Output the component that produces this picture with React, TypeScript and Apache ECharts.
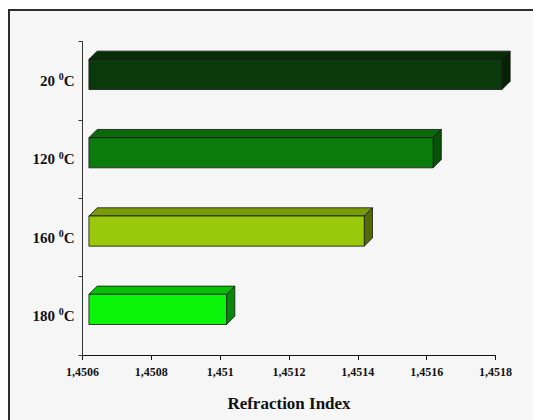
import React, { useEffect, useRef } from "react";
import * as echarts from "echarts";

// Sample temperatures (°C) and the refraction index measured at each
const temperatures = ["20", "120", "160", "180"];
const refractionIndex = [1.4518, 1.4516, 1.4514, 1.451];

// Value axis range and tick step
const axisMin = 1.4506;
const axisMax = 1.4518;
const axisStep = 0.0002;

// Face colours of each 3D bar: front, top, right side
const frontColors = ["#0a3a0b", "#0b7b0c", "#9ac80a", "#0af50a"];
const topColors = ["#082e08", "#0a690a", "#7b9a08", "#08bf08"];
const sideColors = ["#052205", "#075207", "#516b05", "#088a08"];

const serif = "'Liberation Serif', 'Times New Roman', serif";

const formatIndex = (v: number) =>
  String(Number(v.toFixed(4))).replace(".", ",");

function renderBar3D(params: any, api: any) {
  const value = api.value(0);
  const cat = api.value(1);
  const idx = params.dataIndex;
  const base = api.coord([axisMin, cat]);
  const end = api.coord([value, cat]);
  const band = api.size([0, 1])[1];

  const h = band * 0.385; // front face height
  const d = band * 0.105; // depth offset
  const off = band * 0.082; // bar sits inside the depth

  const x0 = base[0] + off;
  const x1 = end[0] + off;
  const cy = base[1] - off;
  const y0 = cy - h / 2;
  const y1 = cy + h / 2;
  const stroke = "#151515";

  return {
    type: "group",
    children: [
      {
        type: "polygon",
        shape: {
          points: [
            [x0, y0],
            [x0 + d, y0 - d],
            [x1 + d, y0 - d],
            [x1, y0],
          ],
        },
        style: { fill: topColors[idx], stroke, lineWidth: 0.8 },
      },
      {
        type: "polygon",
        shape: {
          points: [
            [x1, y0],
            [x1 + d, y0 - d],
            [x1 + d, y1 - d],
            [x1, y1],
          ],
        },
        style: { fill: sideColors[idx], stroke, lineWidth: 0.8 },
      },
      {
        type: "rect",
        shape: { x: x0, y: y0, width: x1 - x0, height: h },
        style: { fill: frontColors[idx], stroke, lineWidth: 0.8 },
      },
    ],
  };
}

export default function App() {
  const ref = useRef<HTMLDivElement>(null);

  useEffect(() => {
    if (!ref.current) return;
    const chart = echarts.init(ref.current, null, { renderer: "svg" });

    chart.setOption({
      animation: false,
      backgroundColor: "#ffffff",
      graphic: [
        {
          type: "rect",
          z: -10,
          silent: true,
          shape: { x: 9, y: 10, width: 600, height: 500 },
          style: { fill: "#f6f6f6", stroke: "#2e2e2e", lineWidth: 2 },
        },
      ],
      grid: { left: 82.5, right: 37.5, top: 41.7, bottom: 65 },
      xAxis: {
        type: "value",
        min: axisMin,
        max: axisMax,
        interval: axisStep,
        name: "Refraction Index",
        nameLocation: "middle",
        nameGap: 40,
        nameTextStyle: {
          fontFamily: serif,
          fontWeight: "bold",
          fontSize: 17,
          color: "#111",
        },
        axisLine: { show: true, lineStyle: { color: "#111", width: 1 } },
        axisTick: { show: true, length: 5, lineStyle: { color: "#111" } },
        splitLine: { show: false },
        axisLabel: {
          formatter: formatIndex,
          fontFamily: serif,
          fontWeight: "bold",
          fontSize: 12,
          color: "#111",
          margin: 11,
        },
      },
      yAxis: {
        type: "category",
        data: temperatures,
        inverse: true,
        axisLine: { show: true, lineStyle: { color: "#333", width: 1 } },
        axisTick: { show: true, length: 4, lineStyle: { color: "#333" } },
        axisLabel: {
          margin: 8,
          formatter: (t: string) => `{n|${t} }{s|0}{n|C}`,
          rich: {
            n: {
              fontFamily: serif,
              fontWeight: "bold",
              fontSize: 15,
              lineHeight: 18,
              color: "#111",
            },
            s: {
              fontFamily: serif,
              fontWeight: "bold",
              fontSize: 10,
              verticalAlign: "top",
              color: "#111",
            },
          },
        },
      },
      series: [
        {
          type: "custom",
          clip: false,
          renderItem: renderBar3D,
          encode: { x: 0, y: 1 },
          data: refractionIndex.map((v, i) => [v, temperatures[i]]),
        },
      ],
    });

    return () => chart.dispose();
  }, []);

  return (
    <div
      ref={ref}
      style={{
        position: "fixed",
        left: 0,
        top: 0,
        width: 533,
        height: 420,
        background: "#fff",
      }}
    />
  );
}
